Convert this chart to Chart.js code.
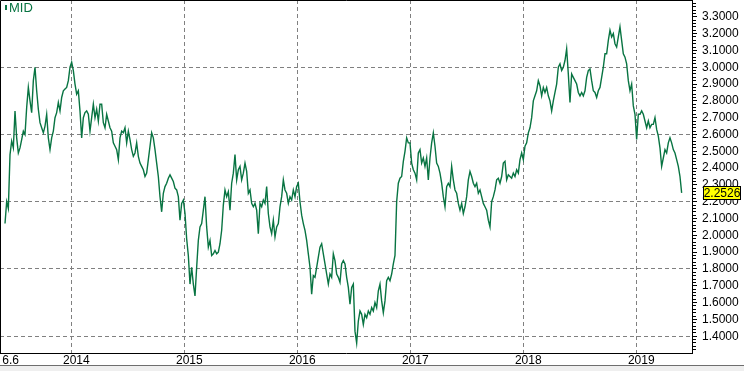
<!DOCTYPE html>
<html>
<head>
<meta charset="utf-8">
<script src="https://cdn.jsdelivr.net/npm/chart.js@4/dist/chart.umd.min.js"></script>
<style>
  html, body { margin: 0; padding: 0; background: #fff; }
  #wrap { width: 744px; height: 371px; overflow: hidden; }
  canvas { display: block; }
  #foot { height: 5px; border-top: 1px solid #6e6e6e; background: #efefef; }
</style>
</head>
<body>
<div id="wrap">
  <canvas id="chart" width="744" height="365"></canvas>
  <div id="foot"></div>
</div>
<script>
// series name and last value tag
const seriesName = 'MID';
const lastLabel = '2.2526';

// sampling: first point (decimal year) and spacing (~5.4 days)
const firstYear = 2013.4133;
const stepYears = 0.014749;

// MID values
const mid = [
  2.07, 2.20, 2.16, 2.48, 2.56, 2.52, 2.74, 2.58, 2.49, 2.52,
  2.57, 2.62, 2.60, 2.76, 2.88, 2.80, 2.73, 2.92, 3.00, 2.86,
  2.75, 2.67, 2.64, 2.61, 2.65, 2.72, 2.58, 2.51, 2.58, 2.62,
  2.70, 2.73, 2.79, 2.74, 2.82, 2.86, 2.87, 2.88, 2.92, 3.00,
  3.03, 2.98, 2.90, 2.84, 2.86, 2.74, 2.58, 2.70, 2.73, 2.74,
  2.72, 2.62, 2.70, 2.78, 2.70, 2.75, 2.68, 2.78, 2.78, 2.67,
  2.64, 2.72, 2.68, 2.64, 2.62, 2.55, 2.53, 2.51, 2.45, 2.58,
  2.62, 2.61, 2.64, 2.55, 2.62, 2.57, 2.51, 2.47, 2.49, 2.55,
  2.47, 2.43, 2.41, 2.39, 2.35, 2.37, 2.45, 2.53, 2.61, 2.58,
  2.51, 2.43, 2.35, 2.23, 2.14, 2.25, 2.29, 2.31, 2.34, 2.36,
  2.34, 2.32, 2.28, 2.27, 2.23, 2.09, 2.19, 2.21, 2.13, 1.98,
  1.88, 1.71, 1.81, 1.71, 1.64, 1.81, 1.97, 2.05, 2.07, 2.15,
  2.23, 2.05, 1.93, 1.97, 1.88, 1.89, 1.91, 1.89, 1.90, 1.95,
  2.03, 2.18, 2.27, 2.23, 2.26, 2.15, 2.31, 2.37, 2.48, 2.33,
  2.39, 2.41, 2.33, 2.37, 2.43, 2.38, 2.25, 2.27, 2.19, 2.17,
  2.19, 2.15, 2.01, 2.19, 2.17, 2.21, 2.19, 2.29, 2.13, 2.05,
  2.01, 2.09, 1.99, 2.05, 2.07, 2.17, 2.23, 2.33, 2.27, 2.25,
  2.19, 2.23, 2.21, 2.27, 2.23, 2.29, 2.31, 2.20, 2.12, 2.07,
  2.03, 1.97, 1.89, 1.81, 1.65, 1.76, 1.75, 1.81, 1.87, 1.93,
  1.95, 1.89, 1.83, 1.77, 1.71, 1.77, 1.75, 1.89, 1.85, 1.77,
  1.75, 1.72, 1.83, 1.85, 1.83, 1.75, 1.69, 1.59, 1.69, 1.71,
  1.43, 1.36, 1.49, 1.55, 1.53, 1.47, 1.53, 1.51, 1.55, 1.53,
  1.57, 1.55, 1.60, 1.57, 1.67, 1.71, 1.61, 1.54, 1.61, 1.73,
  1.75, 1.73, 1.77, 1.83, 1.88, 2.20, 2.31, 2.34, 2.35, 2.44,
  2.50, 2.58, 2.55, 2.55, 2.43, 2.39, 2.37, 2.33, 2.49, 2.51,
  2.43, 2.46, 2.41, 2.46, 2.33, 2.46, 2.55, 2.61, 2.53, 2.43,
  2.41, 2.37, 2.31, 2.23, 2.17, 2.29, 2.31, 2.29, 2.41, 2.33,
  2.27, 2.25, 2.19, 2.15, 2.19, 2.13, 2.17, 2.23, 2.33, 2.38,
  2.35, 2.31, 2.29, 2.31, 2.25, 2.27, 2.23, 2.19, 2.17, 2.15,
  2.09, 2.05, 2.20, 2.23, 2.27, 2.33, 2.34, 2.31, 2.35, 2.43,
  2.44, 2.33, 2.36, 2.35, 2.34, 2.37, 2.35, 2.39, 2.37, 2.45,
  2.49, 2.45, 2.53, 2.55, 2.61, 2.64, 2.70, 2.80, 2.83, 2.86,
  2.92, 2.89, 2.83, 2.88, 2.85, 2.88, 2.83, 2.80, 2.74, 2.80,
  2.85, 2.90, 3.00, 3.02, 2.98, 3.00, 3.04, 3.11, 2.96, 2.79,
  2.96, 2.94, 2.92, 2.90, 2.85, 2.83, 2.85, 2.83, 2.86, 2.94,
  2.98, 2.99, 2.92, 2.86, 2.85, 2.82, 2.86, 2.88, 2.94, 3.00,
  3.08, 3.08, 3.16, 3.22, 3.18, 3.20, 3.14, 3.12, 3.18, 3.24,
  3.16, 3.08, 3.06, 3.02, 2.92, 2.86, 2.90, 2.77, 2.72, 2.57,
  2.72, 2.72, 2.74, 2.72, 2.68, 2.64, 2.68, 2.64, 2.66, 2.66,
  2.70, 2.63, 2.59, 2.52, 2.41, 2.46, 2.51, 2.49, 2.55, 2.58,
  2.55, 2.51, 2.49, 2.45, 2.41, 2.35, 2.2526
];

// x axis: visible range in years, year ticks and the cut-off start date
const xMin = 2013.369;
const xMax = 2019.493;
const xYears = [2014, 2015, 2016, 2017, 2018, 2019];
const xStartLabel = '6.6';

// y axis range and tick steps (in hundredths)
const yMin = 1.3;
const yMax = 3.4;
const yTickFrom = 132, yTickTo = 338;
const yMinorStep = 2, yLabelStep = 10, yGridStep = 40, yGridBase = 140;

const green = '#087442';
const gridGray = '#808080';
const none = 'rgba(0,0,0,0)';
const font = {family: 'Arial, "Liberation Sans"', size: 12};

const points = mid.map((v, i) => ({x: firstYear + i * stepYears, y: v}));

const yTicks = [], yIsLabel = [], yIsGrid = [];
for (let h = yTickFrom; h <= yTickTo; h += yMinorStep) {
    yTicks.push(h / 100);
    yIsLabel.push(h % yLabelStep === 0);
    yIsGrid.push((h - yGridBase) % yGridStep === 0);
}

// frame top/left, series tag and last value box
const extras = {
    id: 'extras',
    afterDraw(chart) {
        const {ctx, chartArea: a, scales: {y}} = chart;
        ctx.save();
        ctx.strokeStyle = '#000';
        ctx.lineWidth = 1;
        ctx.beginPath();
        ctx.moveTo(0.5, a.bottom);
        ctx.lineTo(0.5, 0.5);
        ctx.lineTo(a.right, 0.5);
        ctx.stroke();

        ctx.fillStyle = green;
        ctx.fillRect(a.left + 5, a.top + 5, 2, 5);
        ctx.font = '13px "Liberation Sans Narrow", Arial';
        ctx.textBaseline = 'alphabetic';
        ctx.fillText(seriesName, a.left + 9, a.top + 12);

        const py = Math.round(y.getPixelForValue(mid[mid.length - 1]));
        const bx = y.left + 11;
        ctx.fillStyle = '#ffff00';
        ctx.fillRect(bx, py - 7, 38, 13);
        ctx.strokeRect(bx + 0.5, py - 6.5, 37, 13);
        ctx.fillStyle = '#000';
        ctx.font = '12px Arial, "Liberation Sans"';
        ctx.textAlign = 'center';
        ctx.textBaseline = 'middle';
        ctx.fillText(lastLabel, bx + 19, py + 0.5);
        ctx.restore();
    }
};

new Chart(document.getElementById('chart').getContext('2d'), {
    type: 'line',
    data: {
        datasets: [{
            label: seriesName,
            data: points,
            borderColor: green,
            borderWidth: 1.4,
            pointRadius: 0,
            tension: 0,
            fill: false
        }]
    },
    options: {
        responsive: false,
        animation: false,
        events: [],
        layout: {padding: 0},
        plugins: {legend: {display: false}, tooltip: {enabled: false}},
        scales: {
            x: {
                type: 'linear',
                min: xMin,
                max: xMax,
                afterBuildTicks: s => {
                    s.ticks = [{value: xMin + 0.05}].concat(xYears.map(v => ({value: v})));
                },
                afterFit: s => { s.height = 12; s.paddingLeft = 0; s.paddingRight = 0; },
                ticks: {
                    autoSkip: false, maxRotation: 0, padding: 0, labelOffset: 5,
                    color: '#000', font: font,
                    callback: (v, i) => i === 0 ? xStartLabel : String(v)
                },
                grid: {drawTicks: false, color: c => c.index === 0 ? none : gridGray},
                border: {color: '#000', dash: [4, 3]}
            },
            y: {
                position: 'right',
                min: yMin,
                max: yMax,
                afterBuildTicks: s => { s.ticks = yTicks.map(v => ({value: v})); },
                afterFit: s => { s.width = 52; s.paddingTop = 0; s.paddingBottom = 0; },
                ticks: {
                    autoSkip: false, padding: 5, color: '#000', font: font,
                    callback: (v, i) => yIsLabel[i] ? v.toFixed(4) : ''
                },
                grid: {
                    drawTicks: true,
                    tickLength: 5,
                    color: c => yIsGrid[c.index] ? gridGray : none,
                    tickColor: '#000',
                    tickBorderDash: c => yIsLabel[c.index] ? [] : [3, 10]
                },
                border: {color: '#000', dash: [4, 3]}
            }
        }
    },
    plugins: [extras]
});
</script>
</body>
</html>
